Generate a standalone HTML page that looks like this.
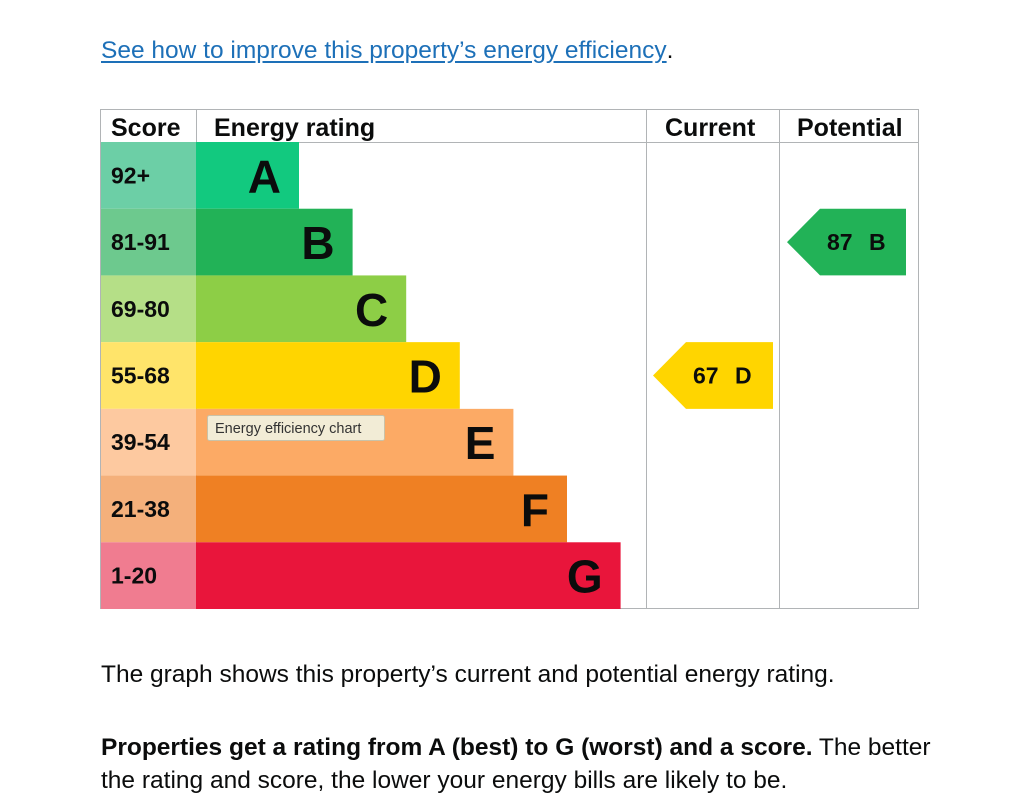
<!DOCTYPE html>
<html><head><meta charset="utf-8">
<style>
html,body{margin:0;padding:0;background:#fff;width:1023px;height:800px;overflow:hidden}
body{font-family:"Liberation Sans",Arial,sans-serif;color:#0b0c0c}
.link{position:absolute;left:101px;top:37px;font-size:24.5px;color:#1d70b8;text-decoration:underline;text-underline-offset:3px;white-space:nowrap}
.p{position:absolute;left:101px;font-size:24.5px;line-height:33px;margin:0;white-space:nowrap}
</style></head><body>
<div class="link">See how to improve this property’s energy efficiency<span style="color:#0b0c0c;text-decoration:none;display:inline-block">.</span></div>
<svg id="chart" width="1023" height="800" style="position:absolute;left:0;top:0" xmlns="http://www.w3.org/2000/svg"></svg>
<p class="p" style="top:658px">The graph shows this property’s current and potential energy rating.</p>
<p class="p" style="top:731px"><b>Properties get a rating from A (best) to G (worst) and a score.</b> The better<br>the rating and score, the lower your energy bills are likely to be.</p>
<script>
const bands=["A","B","C","D","E","F","G"];
const scoreRanges=["92+","81-91","69-80","55-68","39-54","21-38","1-20"];
const bandMax=[100,91,80,68,54,38,20];
const bandColors=["#12c97f","#22b257","#8dce46","#ffd500","#fcaa65","#ef8023","#e9153b"];
const scoreColors=["#6ccfa6","#6dc98e","#b5df87","#ffe46a","#fdc9a0","#f4b07b","#f07c90"];
const currentScore=67, currentBand="D";
const potentialScore=87, potentialBand="B";

const svg=document.getElementById('chart');
const NS="http://www.w3.org/2000/svg";
const L=100,T=109,R=919,B=609,headH=33;
const rowH=(B-T-headH)/bands.length;
const scoreW=96, barX=L+scoreW;
const curX=646, potX=779;
function rowY(i){return T+headH+i*rowH;}
function barW(i){return 103+i*53.6;}
function bandIndex(s){let idx=0;for(let i=0;i<bands.length;i++){if(s<=bandMax[i])idx=i;}return idx;}
function mk(tag,attrs,text){const e=document.createElementNS(NS,tag);for(const k in attrs)e.setAttribute(k,attrs[k]);if(text!==undefined)e.textContent=text;svg.appendChild(e);return e;}

let e=mk('rect',{x:L+0.5,y:T+0.5,width:R-L-1,height:B-T-1,fill:'none',stroke:'#b1b4b6'});


e=mk('line',{x1:L,y1:T+headH+0.5,x2:R,y2:T+headH+0.5,stroke:'#b1b4b6'});


[scoreW+L,curX,potX].forEach(x=>{e=mk('line',{x1:x+0.5,y1:T,x2:x+0.5,y2:B,stroke:'#b1b4b6'});

});

const heads=[["Score",111,'score-header'],["Energy rating",214,'energy-rating-header'],["Current",665,'current-header'],["Potential",797,'potential-header']];
heads.forEach(h=>{e=mk('text',{x:h[1],y:T+27,'font-size':25,'font-weight':'bold',fill:'#0b0c0c'},h[0]);

});

bands.forEach((b,i)=>{
  const y=rowY(i);
  e=mk('rect',{x:L+1,y:y,width:scoreW-1,height:rowH,fill:scoreColors[i]});
  
  
  e=mk('text',{x:111,y:y+rowH/2+8,'font-size':23,'font-weight':'bold',fill:'#0b0c0c'},scoreRanges[i]);
  
  
  const w=barW(i);
  e=mk('rect',{x:barX,y:y,width:w,height:rowH,fill:bandColors[i]});
  
  
  e=mk('text',{x:barX+w-18,y:y+rowH/2+17,'font-size':46,'font-weight':'bold','text-anchor':'end',fill:'#0b0c0c'},b);
  
  
});

function arrow(score,band,x0,w,name){
  const i=bandIndex(score);
  const y=rowY(i), h=rowH, tip=33;
  e=mk('polygon',{points:`${x0},${y+h/2} ${x0+tip},${y} ${x0+w},${y} ${x0+w},${y+h} ${x0+tip},${y+h}`,fill:bandColors[i]});
  
  
  e=mk('text',{x:x0+tip+7,y:y+h/2+8,'font-size':23,'font-weight':'bold',fill:'#0b0c0c'},String(score));
  
  
  e=mk('text',{x:x0+tip+49,y:y+h/2+8,'font-size':23,'font-weight':'bold',fill:'#0b0c0c'},band);
  
  
}
arrow(currentScore,currentBand,653,120,'current-rating');
arrow(potentialScore,potentialBand,787,119,'potential-rating');

e=mk('rect',{x:207.5,y:415.5,width:177,height:25,fill:'#f2ecd6',stroke:'#c9c2a8',rx:2});


e=mk('text',{x:215,y:433,'font-size':14.5,fill:'#333'},"Energy efficiency chart");


</script>
</body></html>
